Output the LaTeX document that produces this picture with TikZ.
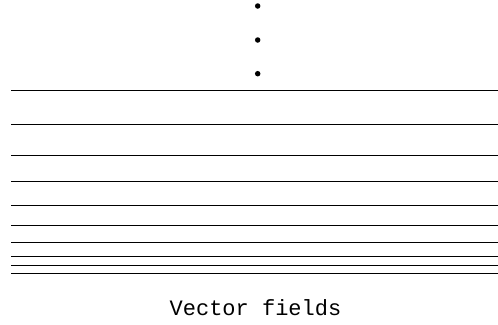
\documentclass[tikz,border=0pt]{standalone}
\usepackage{fontspec}
\setmonofont{Liberation Mono}
\usepackage{tikz}
\usetikzlibrary{positioning,calc}
\tikzset{
    every picture/.style={line width=0.8pt},
    fieldline/.style={draw=black,line width=0.8pt},
    dotnode/.style={circle,fill=black,inner sep=0pt,minimum size=5.5pt}
}

\begin{document}
\begin{tikzpicture}[x=1pt,y=-1pt]
        \useasboundingbox (0,0) rectangle (498,324);

        % dots above the lines
        \node[dotnode] (d1) at (257.7,6) {};
        \node[dotnode] (d2) at (257.7,40) {};
        \node[dotnode] (d3) at (257.7,73.7) {};

        % horizontal lines, getting closer towards the bottom
        \foreach \y [count=\i] in {90.7,124.3,155,181.7,205.7,225.7,242.3,256,265.7,273.3} {
            \coordinate (l\i) at (11,\y);
            \coordinate (r\i) at (498,\y);
            \draw[fieldline] (l\i) -- (r\i);
        }

        \node[anchor=base,font=\ttfamily\fontsize{22}{26}\selectfont,inner sep=0pt] (title) at (255.5,315.7) {Vector fields};
    \end{tikzpicture}
\end{document}
